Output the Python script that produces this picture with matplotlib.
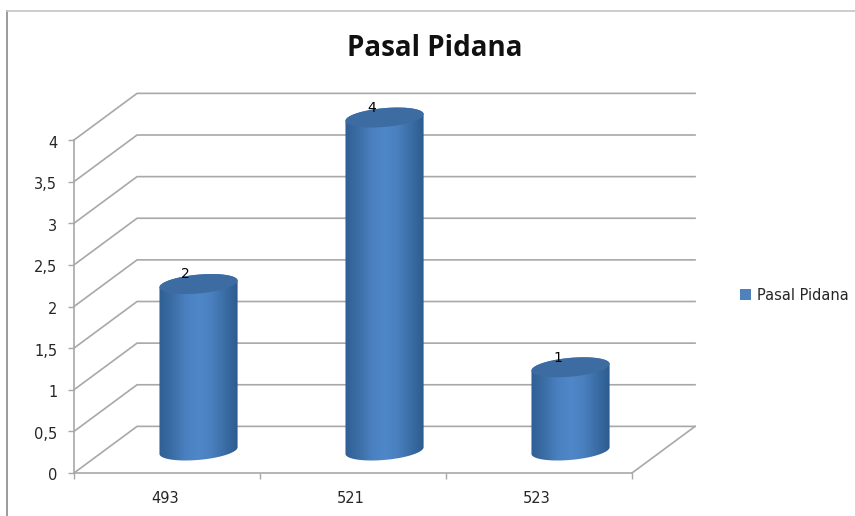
import matplotlib
matplotlib.use('AGG')
import matplotlib.pyplot as plt
import numpy as np
from matplotlib.colors import LinearSegmentedColormap
from matplotlib.patches import Patch, Polygon
from matplotlib.transforms import ScaledTranslation

categories = ['493', '521', '523']
values = [2, 4, 1]
yticks = [0, 0.5, 1, 1.5, 2, 2.5, 3, 3.5, 4]
ylabels = ['0', '0,5', '1', '1,5', '2', '2,5', '3', '3,5', '4']
series_name = 'Pasal Pidana'

GRID = '#a8a8a8'
TXT = '#262626'
# 3d look: how far back the wall sits, in data units
depth_x = 0.339
depth_y = 0.56
bar_a = 0.21
bar_b = 0.113
bar_s = 0.04

fig = plt.figure(figsize=(8.55, 5.16), dpi=100)
ax = fig.add_axes([0, 0, 1, 1])
ax.set_facecolor('none')

# axes fills the figure, one category = 186px, one unit = 83.25px
xlim = (-74 / 186, (855 - 74) / 186)
ylim = (-43 / 83.25, 473 / 83.25)


def ring(cx, base, t):
    return cx + bar_a * np.cos(t), base + bar_s * np.cos(t) + bar_b * np.sin(t)


# back wall and side wall lines
for v in yticks:
    ax.plot([0, depth_x, 3 + depth_x], [v, v + depth_y, v + depth_y], color=GRID, lw=1.2, zorder=1)
ax.plot([3, 3 + depth_x], [0, depth_y], color=GRID, lw=1.2, zorder=1)

cmap = LinearSegmentedColormap.from_list('cyl', ['#2f5f94', '#3b6ea6', '#4a80bf', '#4f87c8', '#4a80bf', '#3b6ea6', '#2d5b8e'])
grad = np.linspace(0, 1, 128).reshape(1, -1)

for i, val in enumerate(values):
    cx = i + 0.5 + depth_x / 2
    base = depth_y / 2 - 0.01
    top = val + base
    xb, yb = ring(cx, base, np.linspace(np.pi, 2 * np.pi, 60))
    xt, yt = ring(cx, top, np.linspace(0, np.pi, 60))
    body = Polygon(np.column_stack([np.r_[xb, xt], np.r_[yb, yt]]), closed=True,
                   facecolor='none', edgecolor='none', transform=ax.transData)
    ax.add_patch(body)
    im = ax.imshow(grad, cmap=cmap, aspect='auto', zorder=3,
                   extent=(cx - bar_a, cx + bar_a, base - 0.3, top + 0.3))
    im.set_clip_path(body)
    xe, ye = ring(cx, top, np.linspace(0, 2 * np.pi, 120))
    ax.fill(xe, ye, color='#3c6ca2', lw=0, zorder=4)
    ax.text(cx - 0.07, top + 0.115, str(val), ha='center', va='center', fontsize=10, color='black', zorder=5)

ax.set_xlim(xlim)
ax.set_ylim(ylim)

for s in ['top', 'right']:
    ax.spines[s].set_visible(False)
ax.spines['left'].set_position(('data', 0))
ax.spines['bottom'].set_position(('data', 0))
ax.spines['left'].set_bounds(0, 4)
ax.spines['bottom'].set_bounds(0, 3)
ax.spines['left'].set_color(GRID)
ax.spines['bottom'].set_color(GRID)
ax.spines['left'].set_linewidth(1.2)
ax.spines['bottom'].set_linewidth(1.2)

ax.set_yticks(yticks, ylabels)
ax.set_xticks([0, 1, 2, 3], [])
ax.set_xticks([0.49, 1.49, 2.49], categories, minor=True)
ax.tick_params(axis='y', length=4, width=1, color=GRID, labelcolor=TXT, labelsize=10.5, pad=8)
ax.tick_params(axis='x', which='major', length=4, width=1, color=GRID)
ax.tick_params(axis='x', which='minor', length=0, labelcolor=TXT, labelsize=10.5, pad=13)
# labels sit a little under their ticks
for lab in ax.get_yticklabels():
    lab.set_transform(lab.get_transform() + ScaledTranslation(0, -1.5 / 100, fig.dpi_scale_trans))

ax.set_title(series_name, fontfamily='Open Sans', fontweight='bold', fontsize=20, color='#111111', x=0.509, y=0.875)

ax.legend(handles=[Patch(facecolor='#4f81bd', label=series_name)], frameon=False, fontsize=10.5,
          labelcolor=TXT, loc='center left', bbox_to_anchor=(0.865, 0.428), handlelength=0.8,
          handleheight=0.8, handletextpad=0.4, borderpad=0, borderaxespad=0)

# frame of the screenshot
fig.add_artist(plt.Line2D([7 / 855, 7 / 855], [0, 1 - 11 / 516], color='#8a8a8a', lw=1.2))
fig.add_artist(plt.Line2D([7 / 855, 1], [1 - 11 / 516, 1 - 11 / 516], color='#c4c4c4', lw=1.2))

plt.savefig('out.png', dpi=100)
